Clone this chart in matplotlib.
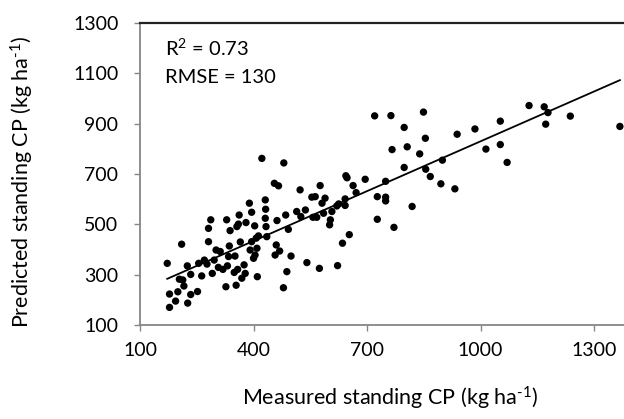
import numpy as np
import matplotlib
matplotlib.use("Agg")
import matplotlib.pyplot as plt

plt.rcParams['font.family'] = ['Lato', 'DejaVu Sans']
plt.rcParams['mathtext.fontset'] = 'custom'
plt.rcParams['mathtext.rm'] = 'Lato'
plt.rcParams['mathtext.it'] = 'Lato'

# measured vs predicted standing CP (kg/ha)
measured = [
    172, 178, 178, 194, 200, 210, 204, 213, 216, 225, 226, 234, 234, 252, 255, 263,
    270, 281, 281, 287, 291, 296, 301, 307, 312, 319, 327, 329, 331, 334, 338, 336,
    351, 354, 356, 358, 362, 365, 369, 375, 378, 380, 389, 395, 403, 391, 395, 400,
    404, 407, 409, 410, 413, 431, 432, 431, 433, 435, 455, 466, 457, 460, 462, 469,
    479, 488, 485, 492, 499, 514, 523, 525, 537, 541, 554, 557, 563, 567, 574, 576,
    581, 585, 589, 601, 603, 607, 620, 622, 625, 277, 349, 360,
    422, 480,
    635, 642, 642, 644, 647, 653, 663, 671, 695, 720, 727, 727, 749, 749, 749, 763,
    766, 771, 798, 798, 806, 819, 839, 849, 854, 855, 867, 895, 899, 932, 938, 985,
    1014, 1052, 1052, 1070, 1128, 1168, 1172, 1178, 1237, 1368,
]
predicted = [
    345, 170, 223, 195, 232, 421, 282, 279, 255, 335, 187, 301, 221, 233, 345, 295,
    358, 431, 484, 518, 305, 358, 398, 329, 392, 321, 252, 518, 335, 372, 475, 414,
    374, 258, 491, 321, 537, 430, 286, 339, 305, 507, 584, 548, 494, 398, 431, 365,
    378, 445, 405, 292, 454, 597, 560, 524, 491, 451, 663, 653, 378, 418, 515, 394,
    248, 312, 537, 480, 374, 551, 637, 531, 557, 348, 608, 528, 610, 528, 325, 654,
    584, 544, 604, 498, 518, 551, 573, 336, 581, 342, 309, 501,
    762, 744,
    425, 601, 575, 693, 685, 459, 654, 626, 679, 931, 610, 520, 671, 608, 593, 932,
    797, 488, 885, 726, 808, 571, 780, 946, 842, 719, 690, 661, 755, 641, 858, 879,
    799, 910, 817, 746, 972, 967, 898, 944, 930, 889,
]

# trendline
slope = 0.66
intercept = 170

x_ticks = [100, 400, 700, 1000, 1300]
y_ticks = [100, 300, 500, 700, 900, 1100, 1300]

W, H = 624, 419
fig = plt.figure(figsize=(W / 100, H / 100), dpi=100)
# axis runs to 1400, which falls just past the right edge of the picture
ax = fig.add_axes([140 / W, (H - 325) / H, 492 / W, 302 / H])

ax.scatter(measured, predicted, s=28, color='black', edgecolors='none', zorder=3)
xs = np.array([min(measured), max(measured)])
ax.plot(xs, slope * xs + intercept, color='black', lw=1.3, zorder=2)

ax.set_xlim(100, 1400)
ax.set_ylim(100, 1300)
ax.set_xticks(x_ticks)
ax.set_yticks(y_ticks)

grey = '#868686'
for side in ['left', 'bottom']:
    ax.spines[side].set_color(grey)
    ax.spines[side].set_linewidth(1.3)
ax.spines['top'].set_color('#222222')
ax.spines['top'].set_linewidth(1.6)
ax.spines['right'].set_visible(False)
ax.tick_params(axis='both', direction='out', length=4.5, width=1.0, color=grey,
               labelsize=14, labelcolor='black')
ax.tick_params(axis='y', pad=11)
ax.tick_params(axis='x', pad=8)

ax.text(166, 1170, r'R$^2$ = 0.73', fontsize=14.5, va='baseline', ha='left')
ax.text(166, 1062, 'RMSE = 130', fontsize=14.5, va='baseline', ha='left')

fig.text(390 / W, 1 - 398 / H, r'Measured standing CP (kg ha$^{\text{-}1}$)', fontsize=15.5,
         ha='center', va='center')
fig.text(22 / W, 1 - 182 / H, r'Predicted standing CP (kg ha$^{\text{-}1}$)', fontsize=15.5,
         ha='center', va='center', rotation=90)

fig.savefig('out.png', dpi=100)
